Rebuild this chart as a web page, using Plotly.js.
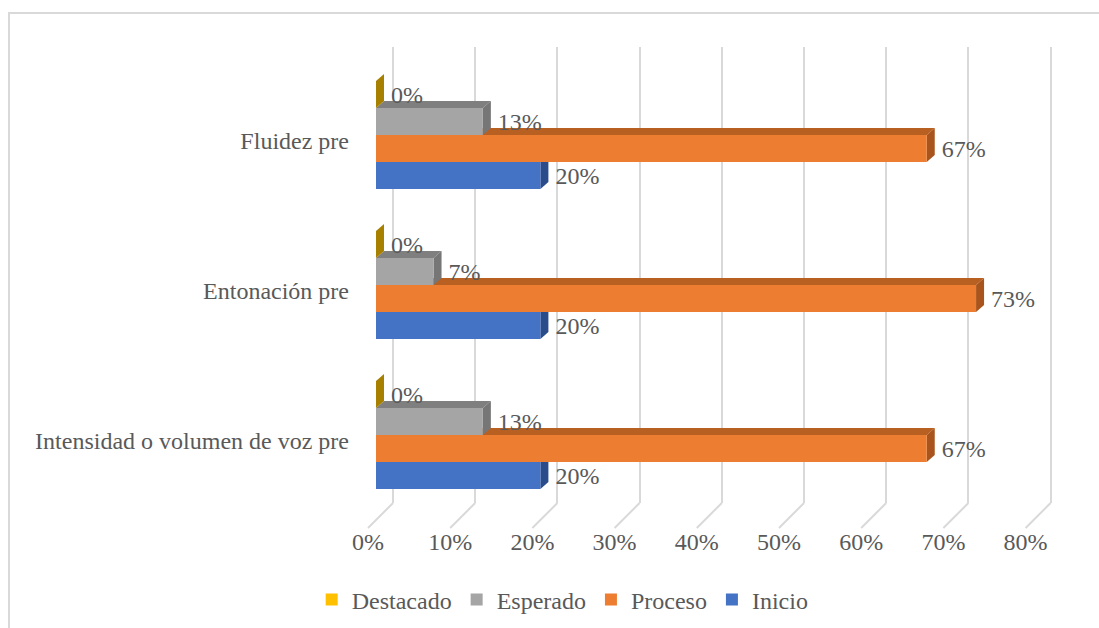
<!DOCTYPE html>
<html>
<head>
<meta charset="utf-8">
<script src="https://cdn.plot.ly/plotly-3.0.1.min.js"></script>
<style>
html,body{margin:0;padding:0;background:#fff;}
#wrap{position:relative;width:1099px;height:628px;overflow:hidden;}
#chart{position:absolute;left:0;top:0;width:1099px;height:628px;}
#frame{position:absolute;left:8px;top:12px;width:1200px;height:700px;border-left:2px solid #d9d9d9;border-top:2px solid #d9d9d9;pointer-events:none;}
</style>
</head>
<body>
<div id="wrap"><div id="chart"></div><div id="frame"></div></div>
<script>
// ---- data ----
const categories = ["Intensidad o volumen de voz pre", "Entonación pre", "Fluidez pre"];
const seriesNames = ["Inicio", "Proceso", "Esperado", "Destacado"];
const inicio    = [0.20, 0.20, 0.20];
const proceso   = [0.67, 0.73, 0.67];
const esperado  = [0.13, 0.07, 0.13];
const destacado = [0.00, 0.00, 0.00];
const xTickVals  = [0, 0.1, 0.2, 0.3, 0.4, 0.5, 0.6, 0.7, 0.8];
const xTickText  = ["0%", "10%", "20%", "30%", "40%", "50%", "60%", "70%", "80%"];

// ---- styles ----
const seriesValues = [inicio, proceso, esperado, destacado];
const frontColors = ["#4472C4", "#ED7D31", "#A5A5A5", "#FFC000"];
const topColors   = ["#2F5597", "#B85F22", "#7F7F7F", "#A88000"];
const sideColors  = ["#2B4C8A", "#A9541C", "#767676", "#A88000"];
const W = 1099, H = 628;
const FONT = "Liberation Serif, Times New Roman, serif";
const TXT = "#595959";
const FS = 24;
const pxPerUnit = 822;            // px per 1.0 on x
const xFront0 = 376, xFloor0 = 368, xBack0 = 393;
const xMax = 0.8;
const yTopPx = 60, yBotPx = 510;  // category range -0.5..2.5
const gridTopPx = 47, backBotPx = 503, floorPx = 528, labelAxisPx = 525;
const nCat = categories.length;
const bargap = 0.28;
const barW = (1 - bargap) / seriesNames.length;
const depthPxX = 8, depthPxY = 7;
const dx = depthPxX / pxPerUnit;
const dy = depthPxY / ((yBotPx - yTopPx) / nCat);

const yIdx = categories.map((c, i) => i);

// grid axis range extended so floor diagonals fit inside
const gLo = -(xBack0 - xFloor0 + 3) / pxPerUnit;
const gHi = xMax + 3 / pxPerUnit;

const traces = [];
traces.push({type: "scatter", x: [], y: [], xaxis: "x", yaxis: "y", showlegend: false, hoverinfo: "skip"});
traces.push({type: "scatter", x: [], y: [], xaxis: "x2", yaxis: "y", showlegend: false, hoverinfo: "skip"});
seriesNames.forEach((name, s) => {
  traces.push({
    type: "bar",
    orientation: "h",
    name: name,
    y: yIdx,
    x: seriesValues[s],
    marker: {color: frontColors[s], line: {width: 0}},
    text: seriesValues[s].map(v => "\u00A0\u00A0" + Math.round(v * 100) + "%"),
    textposition: "outside",
    constraintext: "none",
    cliponaxis: false,
    textfont: {family: FONT, size: FS, color: TXT},
    hoverinfo: "skip",
    xaxis: "x3",
    yaxis: "y2"
  });
});

const shapes = [];
seriesNames.forEach((name, s) => {
  seriesValues[s].forEach((v, i) => {
    const yc = i + (s - (seriesNames.length - 1) / 2) * barW;
    const yb = yc - barW / 2, yt = yc + barW / 2;
    shapes.push({type: "path", xref: "x3", yref: "y2", layer: "between",
      path: `M0,${yt} L${v},${yt} L${v + dx},${yt + dy} L${dx},${yt + dy} Z`,
      fillcolor: topColors[s], line: {width: 0}});
    shapes.push({type: "path", xref: "x3", yref: "y2", layer: "between",
      path: `M${v},${yb} L${v},${yt} L${v + dx},${yt + dy} L${v + dx},${yb + dy} Z`,
      fillcolor: sideColors[s], line: {width: 0}});
  });
});
const floorDx = (xBack0 - xFloor0) / pxPerUnit;
xTickVals.forEach(t => {
  shapes.push({type: "line", xref: "x", yref: "paper", layer: "below",
    x0: t, x1: t - floorDx, y0: 1 - backBotPx / H, y1: 1 - floorPx / H,
    line: {color: "#d9d9d9", width: 2}});
});

const layout = {
  width: W, height: H,
  margin: {l: 0, r: 0, t: 0, b: 0},
  paper_bgcolor: "#ffffff",
  plot_bgcolor: "rgba(0,0,0,0)",
  barmode: "group",
  bargap: bargap,
  bargroupgap: 0,
  showlegend: true,
  legend: {orientation: "h", x: 0.512, xanchor: "center", y: 1 - 600 / H, yanchor: "middle",
    traceorder: "reversed", font: {family: FONT, size: FS, color: TXT},
    itemwidth: 30, bgcolor: "rgba(0,0,0,0)"},
  xaxis: {domain: [(xBack0 + gLo * pxPerUnit) / W, (xBack0 + gHi * pxPerUnit) / W], range: [gLo, gHi],
    anchor: "y", tickvals: xTickVals, showticklabels: false, showgrid: true,
    gridcolor: "#d9d9d9", gridwidth: 2, zeroline: false, showline: false, ticks: "", fixedrange: true},
  yaxis: {domain: [1 - backBotPx / H, 1 - gridTopPx / H], range: [0, 1], visible: false,
    anchor: "x", fixedrange: true},
  xaxis2: {domain: [xFloor0 / W, (xFloor0 + xMax * pxPerUnit) / W], range: [0, xMax],
    anchor: "free", position: 1 - labelAxisPx / H, side: "bottom",
    tickvals: xTickVals, ticktext: xTickText, showgrid: false, zeroline: false, showline: false,
    ticks: "", tickfont: {family: FONT, size: FS, color: TXT}, fixedrange: true},
  xaxis3: {domain: [xFront0 / W, (xFront0 + xMax * pxPerUnit) / W], range: [0, xMax],
    showgrid: false, zeroline: false, showline: false, showticklabels: false, ticks: "",
    anchor: "y2", fixedrange: true},
  yaxis2: {domain: [1 - yBotPx / H, 1 - yTopPx / H], range: [-0.5, nCat - 0.5],
    tickvals: yIdx, ticktext: categories, showgrid: false, zeroline: false, showline: false,
    ticks: "", ticklabelstandoff: 26, ticklabelshift: 6,
    tickfont: {family: FONT, size: FS, color: TXT}, anchor: "x3", fixedrange: true},
  shapes: shapes
};

Plotly.newPlot("chart", traces, layout, {displayModeBar: false, staticPlot: true});
</script>
</body>
</html>
